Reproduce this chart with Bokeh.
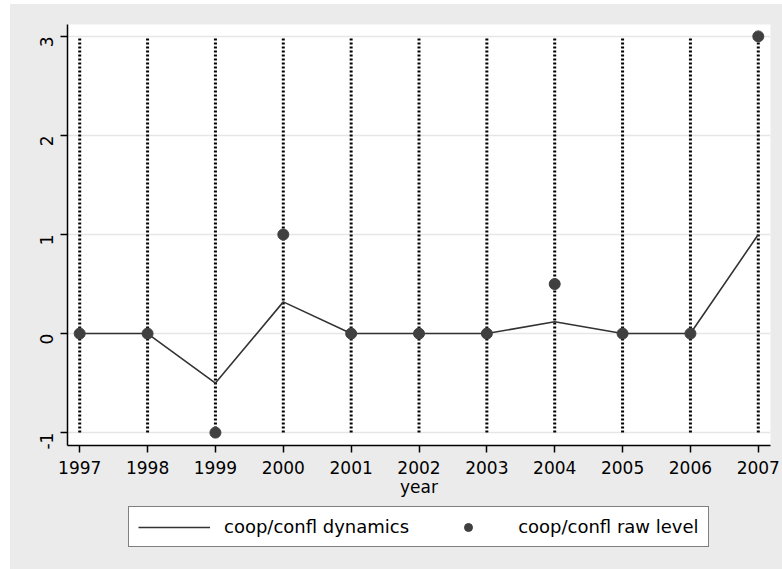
from bokeh.plotting import figure
from bokeh.embed import file_html
from bokeh.resources import INLINE
from bokeh.models import FixedTicker, Legend, LegendItem, Range1d, Spacer, ColumnDataSource
from bokeh.layouts import row, column
from math import pi

# Yearly series
years = [1997, 1998, 1999, 2000, 2001, 2002, 2003, 2004, 2005, 2006, 2007]
dynamics = [0, 0, -0.5, 0.32, 0, 0, 0, 0.12, 0, 0, 1]
raw_level = [0, 0, -1, 1, 0, 0, 0, 0.5, 0, 0, 3]
y_ticks = [-1, 0, 1, 2, 3]

FONT = "DejaVu Sans"
BG = "#ebebeb"
LINE_COLOR = "#333333"
DOT_COLOR = "#404040"

src = ColumnDataSource(dict(year=years, dyn=dynamics, raw=raw_level,
                            lo=[min(y_ticks)] * len(years),
                            hi=[max(y_ticks)] * len(years)))

p = figure(width=772, height=495, output_backend="svg", toolbar_location=None,
           x_range=Range1d(1996.82, 2007.18), y_range=Range1d(-1.13, 3.12),
           min_border_left=57, min_border_right=12, min_border_top=20,
           min_border_bottom=54)
p.border_fill_color = BG
p.background_fill_color = "white"
p.outline_line_color = None

# grid: horizontal only
p.xgrid.grid_line_color = None
p.ygrid.grid_line_color = "#e6e6e6"
p.ygrid.grid_line_width = 1.5
p.ygrid.ticker = FixedTicker(ticks=y_ticks)

# axes
p.xaxis.ticker = FixedTicker(ticks=years)
p.yaxis.ticker = FixedTicker(ticks=y_ticks)
for ax in (p.xaxis[0], p.yaxis[0]):
    ax.axis_line_color = "black"
    ax.axis_line_width = 1.5
    ax.major_tick_line_color = "black"
    ax.major_tick_line_width = 1.5
    ax.major_tick_out = 7
    ax.major_tick_in = 0
    ax.minor_tick_line_color = None
    ax.major_label_text_font = FONT
    ax.major_label_text_font_size = "17px"
    ax.major_label_text_color = "black"
p.yaxis.major_label_orientation = pi / 2
p.yaxis.major_label_standoff = 14
p.yaxis.major_label_overrides = {-1: "-1"}
p.xaxis.major_label_standoff = 8
p.xaxis.axis_label = "year"
p.xaxis.axis_label_text_font = FONT
p.xaxis.axis_label_text_font_size = "17px"
p.xaxis.axis_label_text_font_style = "normal"
p.xaxis.axis_label_text_color = "black"
p.xaxis.axis_label_standoff = 0

# dotted reference lines at each year
p.segment(x0="year", y0="lo", x1="year", y1="hi", source=src,
          line_color="black", line_width=3, line_dash="2 2")

p.line(x="year", y="dyn", source=src, line_color=LINE_COLOR, line_width=1.6)
p.scatter(x="year", y="raw", source=src, size=11, fill_color=DOT_COLOR,
          line_color=DOT_COLOR)

# legend strip under the chart (key glyphs sit outside its visible range)
leg_fig = figure(width=772, height=70, output_backend="svg", toolbar_location=None,
                 x_range=Range1d(0, 1), y_range=Range1d(0, 1),
                 min_border_left=57, min_border_right=12, min_border_top=0,
                 min_border_bottom=0, x_axis_location=None, y_axis_location=None)
leg_fig.border_fill_alpha = 0
leg_fig.background_fill_alpha = 0
leg_fig.outline_line_color = None
leg_fig.grid.grid_line_color = None
offscreen = ColumnDataSource(dict(x=[-10], y=[-10]))
dyn_key = leg_fig.line(x="x", y="y", source=offscreen, line_color=LINE_COLOR, line_width=1.6)
raw_key = leg_fig.scatter(x="x", y="y", source=offscreen, size=10, fill_color=DOT_COLOR,
                          line_color=DOT_COLOR)

legend = Legend(items=[LegendItem(label="coop/confl dynamics", renderers=[dyn_key]),
                       LegendItem(label="coop/confl raw level", renderers=[raw_key])],
                orientation="horizontal", location=(61, 22))
legend.glyph_width = 72
legend.glyph_height = 20
legend.spacing = 23
legend.padding = 9
legend.label_standoff = 14
legend.label_text_font = FONT
legend.label_text_font_size = "18px"
legend.label_text_color = "black"
legend.border_line_color = "black"
legend.border_line_width = 1.5
legend.background_fill_color = "white"
legend.background_fill_alpha = 1
legend.margin = 0
leg_fig.add_layout(legend)

chart = column(p, leg_fig, spacing=0, styles={"background-color": BG})
root = column(Spacer(height=4), row(Spacer(width=10), chart, spacing=0), spacing=0)

open("out.html", "w").write(file_html(root, INLINE))
